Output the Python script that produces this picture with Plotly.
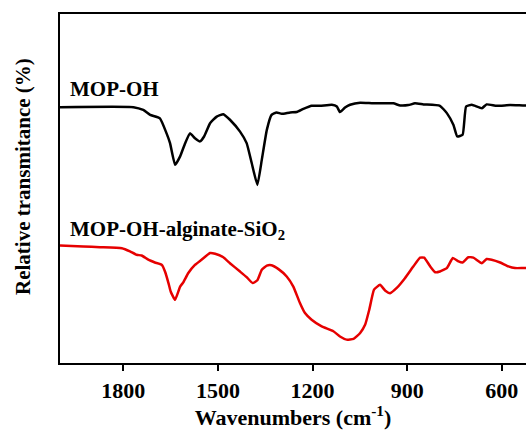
import plotly.graph_objects as go

# MOP-OH spectrum (wavenumber, relative transmittance, arbitrary units)
wn_black = [2001, 1768, 1737, 1715, 1684, 1663, 1652, 1636, 1620, 1604, 1589, 1573, 1557, 1544,
            1525, 1504, 1483, 1462, 1430, 1409, 1393, 1375, 1361, 1345, 1330, 1314, 1298, 1271,
            1250, 1229, 1203, 1176, 1139, 1123, 1113, 1097, 1081, 1049, 1007, 944, 922, 896, 875,
            848, 796, 774, 753, 741, 724, 713, 695, 663, 648, 616, 574, 533, 520]
t_black = [73.3, 73.3, 72.5, 71.1, 70.1, 65.8, 63.0, 56.8, 59.2, 63.0, 65.8, 64.4, 63.5, 64.9,
           68.7, 70.6, 71.3, 69.7, 66.3, 63.0, 57.3, 51.0, 58.2, 66.8, 71.1, 71.8, 71.4, 71.8,
           71.9, 72.8, 73.7, 73.7, 74.0, 73.5, 71.9, 73.2, 74.0, 74.6, 74.4, 74.4, 73.8, 73.9, 74.4,
           74.1, 73.7, 71.6, 68.2, 64.9, 65.4, 73.5, 74.0, 73.0, 74.1, 73.7, 73.9, 73.8, 73.8]

# MOP-OH-alginate-SiO2 spectrum
wn_red = [2001, 1927, 1874, 1805, 1779, 1758, 1742, 1721, 1700, 1678, 1668, 1657, 1650, 1636,
          1620, 1610, 1594, 1573, 1552, 1525, 1509, 1483, 1462, 1430, 1409, 1390, 1375, 1361,
          1345, 1330, 1308, 1282, 1261, 1240, 1224, 1203, 1171, 1134, 1113, 1092, 1070, 1049,
          1033, 1020, 1005, 986, 970, 954, 933, 907, 880, 859, 846, 827, 811, 796, 774, 755,
          737, 724, 706, 690, 663, 648, 632, 605, 579, 558, 533, 520]
t_red = [33.7, 33.4, 33.2, 32.9, 32.0, 31.0, 30.8, 29.6, 28.8, 28.1, 26.2, 22.9, 20.5, 18.1,
         21.9, 23.1, 25.8, 28.1, 29.6, 31.5, 31.3, 30.3, 28.6, 26.2, 24.6, 22.9, 23.7, 26.7,
         27.9, 28.0, 26.9, 24.8, 21.9, 17.2, 14.3, 12.4, 10.5, 9.1, 7.6, 6.7, 6.9, 8.6,
         11.0, 15.3, 21.0, 22.4, 20.8, 20.0, 21.5, 24.3, 27.7, 30.2, 30.2, 27.7, 26.0, 26.2, 27.2, 30.1,
         29.1, 28.8, 30.3, 30.2, 28.6, 29.8, 29.6, 28.8, 27.7, 27.2, 27.2, 27.2]

x_ticks = [1800, 1500, 1200, 900, 600]
labels = ["MOP-OH", "MOP-OH-alginate-SiO<sub>2</sub>"]

FONT = "'Liberation Serif', 'Times New Roman', Times, serif"

fig = go.Figure()
fig.add_trace(go.Scatter(x=wn_black, y=t_black, mode="lines",
                         line=dict(color="#000000", width=2.5, shape="spline", smoothing=0.4),
                         showlegend=False))
fig.add_trace(go.Scatter(x=wn_red, y=t_red, mode="lines",
                         line=dict(color="#e60000", width=2.5, shape="spline", smoothing=0.4),
                         showlegend=False))

ph = 363 - 14
fig.add_annotation(x=0.017, y=(363 - 89) / ph, xref="paper", yref="paper",
                   text="<b>" + labels[0] + "</b>",
                   showarrow=False, xanchor="left", yanchor="middle",
                   font=dict(family=FONT, size=21, color="black"))
fig.add_annotation(x=0.017, y=(363 - 230) / ph, xref="paper", yref="paper",
                   text="<b>" + labels[1] + "</b>",
                   showarrow=False, xanchor="left", yanchor="middle",
                   font=dict(family=FONT, size=21, color="black"))

fig.add_annotation(x=(23 - 60) / 466, y=(363 - 177) / ph, xref="paper", yref="paper",
                   text="<b>Relative transmitance (%)</b>", textangle=-90,
                   showarrow=False, xanchor="center", yanchor="middle",
                   font=dict(family=FONT, size=21, color="black"))

fig.update_layout(
    width=526, height=430,
    margin=dict(l=60, r=0, t=14, b=67),
    paper_bgcolor="white", plot_bgcolor="white",
    xaxis=dict(range=[2001, 523], tickvals=x_ticks, ticktext=[f"<b>{v}</b>" for v in x_ticks],
               ticks="outside", ticklen=6, tickwidth=2, tickcolor="black",
               showline=True, linecolor="black", linewidth=2.2, mirror=True,
               showgrid=False, zeroline=False,
               tickfont=dict(family=FONT, size=22, color="black"),
               title=dict(text="<b>Wavenumbers (cm<sup>-1</sup>)</b>",
                          font=dict(family=FONT, size=22, color="black"), standoff=4)),
    yaxis=dict(range=[0, 100], showticklabels=False, ticks="",
               showline=True, linecolor="black", linewidth=2.2, mirror=False,
               showgrid=False, zeroline=False),
)

fig.write_html("out.html")
